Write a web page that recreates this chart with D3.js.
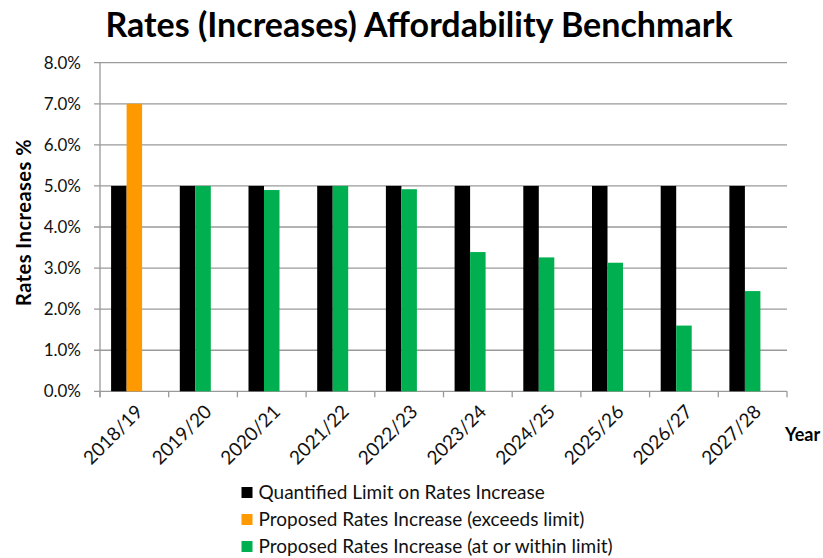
<!DOCTYPE html>
<html><head><meta charset="utf-8">
<script src="https://cdn.jsdelivr.net/npm/d3@7"></script>
<style>body{margin:0;background:#fff}svg{display:block}text{font-family:Lato,"Open Sans",sans-serif}</style>
</head><body>
<svg id="c" width="823" height="558"></svg>
<script>
const years = ["2018/19","2019/20","2020/21","2021/22","2022/23","2023/24","2024/25","2025/26","2026/27","2027/28"];
const limit = [5,5,5,5,5,5,5,5,5,5];
const exceeds = [7.0,0,0,0,0,0,0,0,0,0];
const within = [0,5.0,4.9,5.0,4.92,3.39,3.26,3.13,1.6,2.44];
const yTicks = [0,1,2,3,4,5,6,7,8];
const seriesNames = ["Quantified Limit on Rates Increase","Proposed Rates Increase (exceeds limit)","Proposed Rates Increase (at or within limit)"];
const colors = ["#000000","#FF9900","#00B050"];

const svg = d3.select("#c");
const L=100,R=787,T=62.7,B=391.3;
const x0 = d3.scaleBand().domain(years).range([L,R]).paddingInner(0.323).paddingOuter(0.1615);
const x1 = d3.scaleBand().domain([0,1,2]).range([0,x0.bandwidth()]);
const y = d3.scaleLinear().domain([0,8]).range([B,T]);

// gridlines
svg.append("g").selectAll("line").data(yTicks).join("line")
  .attr("x1",L-6).attr("x2",R).attr("y1",d=>y(d)).attr("y2",d=>y(d))
  .attr("stroke","#9a9a9a").attr("stroke-width",1.3);
// y axis line
svg.append("line").attr("x1",L).attr("x2",L).attr("y1",T).attr("y2",B+6).attr("stroke","#9a9a9a").attr("stroke-width",1.3);
// x ticks at band boundaries
const step = x0.step();
svg.append("g").selectAll("line").data(d3.range(years.length+1)).join("line")
  .attr("x1",d=>L+d*step).attr("x2",d=>L+d*step).attr("y1",B).attr("y2",B+6)
  .attr("stroke","#9a9a9a").attr("stroke-width",1.3);

// bars
const g = svg.append("g");
years.forEach((yr,i)=>{
  const bx = x0(yr);
  g.append("rect").attr("x",bx+x1(0)).attr("width",x1.bandwidth()).attr("y",y(limit[i])).attr("height",B-y(limit[i])).attr("fill",colors[0]);
  if(exceeds[i]>0) g.append("rect").attr("x",bx+x1(1)).attr("width",x1.bandwidth()).attr("y",y(exceeds[i])).attr("height",B-y(exceeds[i])).attr("fill",colors[1]);
  if(within[i]>0) g.append("rect").attr("x",bx+x1(1)).attr("width",x1.bandwidth()).attr("y",y(within[i])).attr("height",B-y(within[i])).attr("fill",colors[2]);
});

// y tick labels
svg.append("g").selectAll("text").data(yTicks).join("text")
  .attr("x",L-19).attr("y",d=>y(d)).attr("dy","0.36em").attr("text-anchor","end")
  .attr("font-size",17).attr("fill","#111").text(d=>d.toFixed(1)+"%");

// x labels
svg.append("g").selectAll("text").data(years).join("text")
  .attr("transform",d=>`translate(${x0(d)+x0.bandwidth()/2+5},${B+17}) rotate(-45)`)
  .attr("text-anchor","end").attr("dy","0.35em").attr("font-size",19).attr("fill","#111").text(d=>d);

// titles
svg.append("text").attr("x",419).attr("y",37).attr("text-anchor","middle").attr("font-size",34).attr("font-weight","bold").text("Rates (Increases) Affordability Benchmark");
svg.append("text").attr("transform",`translate(31,222.5) rotate(-90)`).attr("text-anchor","middle").attr("font-size",20).attr("letter-spacing",0.5).attr("font-weight","bold").text("Rates Increases %");
svg.append("text").attr("x",785).attr("y",441).attr("text-anchor","start").attr("font-size",18).attr("font-weight","bold").text("Year");

// legend
const lg = svg.append("g").selectAll("g").data(seriesNames).join("g")
  .attr("transform",(d,i)=>`translate(241.5,${492.5+i*27})`);
lg.append("rect").attr("x",0).attr("y",-5.5).attr("width",11).attr("height",11).attr("fill",(d,i)=>colors[i]);
lg.append("text").attr("x",17).attr("y",0).attr("dy","0.36em").attr("font-size",19).attr("fill","#111").text(d=>d);
</script>
</body></html>
